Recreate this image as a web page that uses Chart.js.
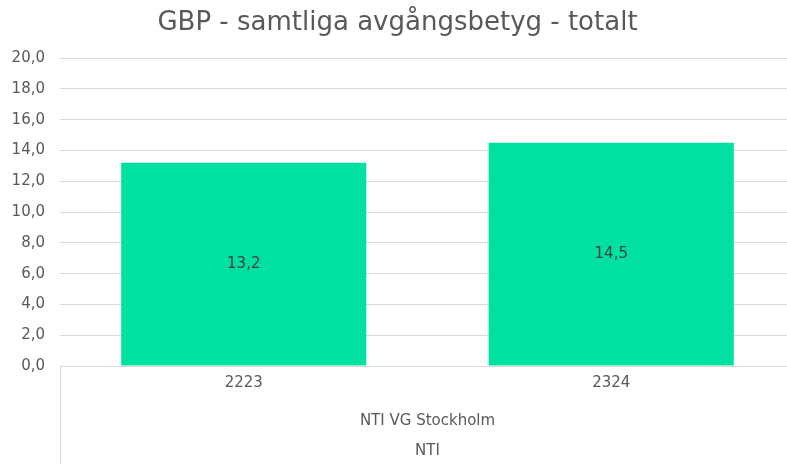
<!DOCTYPE html>
<html>
<head>
<meta charset="utf-8">
<script src="https://cdn.jsdelivr.net/npm/chart.js@4/dist/chart.umd.min.js"></script>
<style>
  html, body { margin: 0; padding: 0; overflow: hidden; background: #ffffff; }
  #wrap { width: 800px; height: 464px; position: relative; }
</style>
</head>
<body>
<div id="wrap"><canvas id="c"></canvas></div>
<script>
const chartTitle = 'GBP - samtliga avgångsbetyg - totalt';
const categories = ['2223', '2324'];
const values = [13.2, 14.5];
const groupLevel1 = ['NTI VG Stockholm'];
const groupLevel2 = ['NTI'];
const yMin = 0, yMax = 20, yStep = 2;

const FONT = "'DejaVu Sans', sans-serif";
const TEXT = '#595959';
const GRID = '#d9d9d9';

const fmt = v => Number(v).toFixed(1).replace('.', ',');

const extras = {
  id: 'extras',
  afterDatasetsDraw(chart) {
    const ctx = chart.ctx;
    const meta = chart.getDatasetMeta(0);
    ctx.save();
    ctx.fillStyle = '#404040';
    ctx.font = '15px ' + FONT;
    ctx.textAlign = 'center';
    ctx.textBaseline = 'middle';
    meta.data.forEach((bar, i) => {
      const p = bar.getProps(['x', 'y', 'base'], true);
      ctx.fillText(fmt(values[i]), p.x, (p.y + p.base) / 2);
    });
    ctx.restore();
  },
  afterDraw(chart) {
    const ctx = chart.ctx;
    const a = chart.chartArea;
    ctx.save();
    ctx.strokeStyle = GRID;
    ctx.lineWidth = 1;
    ctx.beginPath();
    ctx.moveTo(Math.round(a.left) + 0.5, a.bottom);
    ctx.lineTo(Math.round(a.left) + 0.5, chart.height);
    ctx.stroke();
    ctx.restore();
  }
};

new Chart(document.getElementById('c'), {
  type: 'bar',
  data: {
    labels: categories,
    datasets: [{
      data: values,
      backgroundColor: '#00E1A1',
      borderWidth: 0,
      barPercentage: 0.667,
      categoryPercentage: 1.0,
      xAxisID: 'x',
      yAxisID: 'y'
    }]
  },
  options: {
    responsive: true,
    maintainAspectRatio: false,
    animation: false,
    layout: { padding: { left: 0, right: 5, top: 0, bottom: 0 } },
    plugins: {
      legend: { display: false },
      tooltip: { enabled: false },
      title: {
        display: true,
        text: chartTitle,
        color: TEXT,
        font: { family: FONT, size: 26, weight: 'normal' },
        padding: { top: 8, bottom: 19 }
      }
    },
    scales: {
      x: {
        type: 'category',
        position: 'bottom',
        weight: 0,
        grid: { display: false, drawTicks: false },
        border: { display: false },
        ticks: { color: TEXT, font: { family: FONT, size: 15 }, padding: 8, maxRotation: 0 },
        afterFit: s => { s.height = 36; }
      },
      x2: {
        type: 'category',
        position: 'bottom',
        weight: 1,
        labels: groupLevel1,
        offset: true,
        grid: { display: false, drawTicks: false },
        border: { display: false },
        ticks: { color: TEXT, font: { family: FONT, size: 15 }, padding: 10, maxRotation: 0 },
        afterFit: s => { s.height = 34; }
      },
      x3: {
        type: 'category',
        position: 'bottom',
        weight: 2,
        labels: groupLevel2,
        offset: true,
        grid: { display: false, drawTicks: false },
        border: { display: false },
        ticks: { color: TEXT, font: { family: FONT, size: 15 }, padding: 6, maxRotation: 0 },
        afterFit: s => { s.height = 28; }
      },
      y: {
        min: yMin,
        max: yMax,
        grid: { color: GRID, lineWidth: 1, drawTicks: false },
        border: { display: false },
        ticks: {
          stepSize: yStep,
          color: TEXT,
          font: { family: FONT, size: 15 },
          padding: 15,
          callback: v => fmt(v)
        },
        afterFit: s => { s.width = 60; }
      }
    }
  },
  plugins: [extras]
});
</script>
</body>
</html>
